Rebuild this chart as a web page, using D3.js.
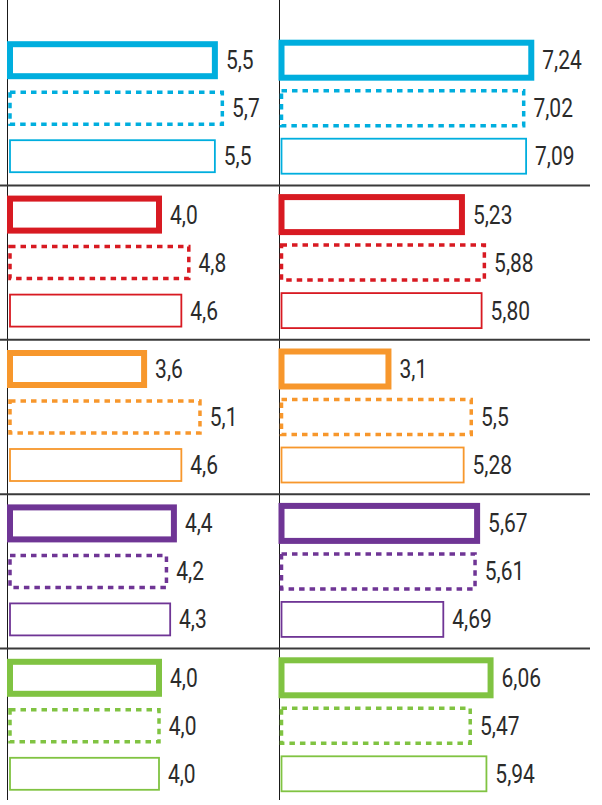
<!DOCTYPE html>
<html>
<head>
<meta charset="utf-8">
<script src="https://cdn.jsdelivr.net/npm/d3@7/dist/d3.min.js"></script>
<style>
  html, body { margin: 0; padding: 0; background: #fff; }
  svg { display: block; }
</style>
</head>
<body>
<div id="chart"></div>
<script>
// one row of three bars per colour group, two panels side by side
var groups = ["blue", "red", "orange", "purple", "green"];
var groupColors = ["#00aede", "#d81a22", "#f7972c", "#6f3595", "#80c342"];
var barStyles = ["thick", "dotted", "thin"];

var leftValues = [
  [5.5, 5.7, 5.5],
  [4.0, 4.8, 4.6],
  [3.6, 5.1, 4.6],
  [4.4, 4.2, 4.3],
  [4.0, 4.0, 4.0]
];
var leftLabels = [
  ["5,5", "5,7", "5,5"],
  ["4,0", "4,8", "4,6"],
  ["3,6", "5,1", "4,6"],
  ["4,4", "4,2", "4,3"],
  ["4,0", "4,0", "4,0"]
];
var rightValues = [
  [7.24, 7.02, 7.09],
  [5.23, 5.88, 5.80],
  [3.1, 5.5, 5.28],
  [5.67, 5.61, 4.69],
  [6.06, 5.47, 5.94]
];
var rightLabels = [
  ["7,24", "7,02", "7,09"],
  ["5,23", "5,88", "5,80"],
  ["3,1", "5,5", "5,28"],
  ["5,67", "5,61", "4,69"],
  ["6,06", "5,47", "5,94"]
];

var width = 602, height = 805;

var svg = d3.select("#chart").append("svg")
    .attr("width", width)
    .attr("height", height);

var groupY = d3.scaleBand().domain(d3.range(groups.length)).range([31, 803]);
var rowY = d3.scalePoint().domain(barStyles).range([-48, 48]);

var strokeW = { thick: 6, dotted: 3.5, thin: 1.8 };
var dash = { thick: null, dotted: "5.5,5", thin: null };

var panels = [
  { x0: 10, line: 7.5, barH: 32, values: leftValues, labels: leftLabels,
    x: d3.scaleLinear().domain([0, 8]).range([0, 298]) },
  { x0: 281.5, line: 279.5, barH: 35, values: rightValues, labels: rightLabels,
    x: d3.scaleLinear().domain([0, 8]).range([0, 276]) }
];

// vertical rules
svg.selectAll("line.v")
    .data(panels)
  .enter().append("line")
    .attr("class", "v")
    .attr("x1", function(p) { return p.line; })
    .attr("x2", function(p) { return p.line; })
    .attr("y1", 0)
    .attr("y2", 800)
    .attr("stroke", "#1a1a1a")
    .attr("stroke-width", 1);

// horizontal separators between groups
svg.selectAll("line.h")
    .data(d3.range(1, groups.length))
  .enter().append("line")
    .attr("class", "h")
    .attr("x1", 0)
    .attr("x2", 590)
    .attr("y1", function(i) { return groupY(i); })
    .attr("y2", function(i) { return groupY(i); })
    .attr("stroke", "#3a3a3a")
    .attr("stroke-width", 2);

panels.forEach(function(p) {
  var rows = [];
  p.values.forEach(function(vals, gi) {
    vals.forEach(function(v, ri) {
      rows.push({ g: gi, style: barStyles[ri], value: v, label: p.labels[gi][ri] });
    });
  });

  var cy = function(d) { return groupY(d.g) + groupY.bandwidth() / 2 + rowY(d.style); };

  var panel = svg.append("g");

  panel.selectAll("rect")
      .data(rows)
    .enter().append("rect")
      .attr("x", p.x0)
      .attr("y", function(d) { return cy(d) - p.barH / 2; })
      .attr("width", function(d) { return p.x(d.value); })
      .attr("height", p.barH)
      .attr("fill", "none")
      .attr("stroke", function(d) { return groupColors[d.g]; })
      .attr("stroke-width", function(d) { return strokeW[d.style]; })
      .attr("stroke-dasharray", function(d) { return dash[d.style]; });

  // labels squeezed horizontally to imitate the narrow original face
  panel.selectAll("text")
      .data(rows)
    .enter().append("text")
      .attr("transform", function(d) {
        var tx = p.x0 + p.x(d.value) + strokeW[d.style] / 2 + 8;
        return "translate(" + tx + "," + (cy(d) + 9) + ") scale(0.84,1)";
      })
      .attr("font-family", "Roboto, sans-serif")
      .attr("font-size", 25)
      .attr("fill", "#2b2b2b")
      .text(function(d) { return d.label; });
});
</script>
</body>
</html>
